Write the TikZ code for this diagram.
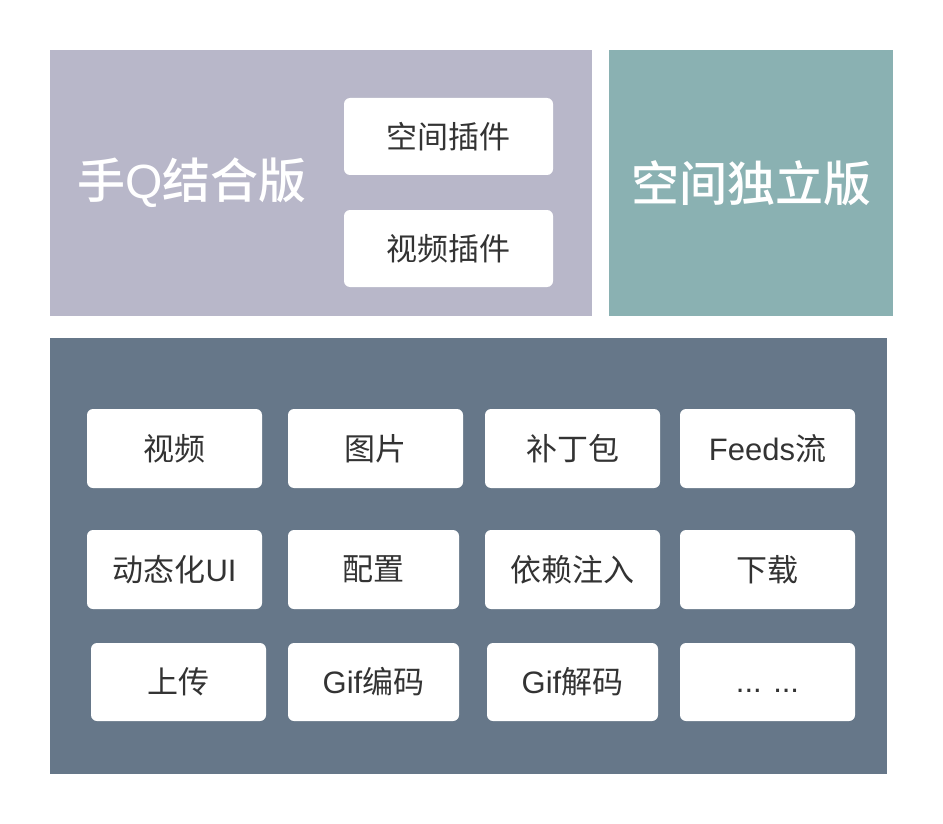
\documentclass[tikz,border=0pt]{standalone}
\usepackage{fontspec}
\setmainfont{Noto Sans CJK SC}
\newfontfamily\titlefont{Noto Sans CJK SC Medium}
\newfontfamily\latfont{Liberation Sans}
\definecolor{hqpanel}{HTML}{B8B7C9}
\definecolor{qzpanel}{HTML}{8AB1B2}
\definecolor{basepanel}{HTML}{667789}
\definecolor{cellText}{HTML}{333333}
\begin{document}
\begin{tikzpicture}[x=1pt, y=-1pt,
  cell/.style={shape=rectangle, fill=white, rounded corners=6pt, inner sep=0pt,
    minimum width=175pt, minimum height=79pt, text=cellText,
    font=\fontsize{31}{36}\selectfont},
  title/.style={text=white, inner sep=0pt, font=\titlefont\fontsize{48}{56}\selectfont}]
\useasboundingbox (0,0) rectangle (943,824);
\fill[hqpanel] (50,50) rectangle (592,316);
\fill[qzpanel] (609,50) rectangle (893,316);
\fill[basepanel] (50,338) rectangle (887,774);
\node[title] (hq) at (192,183) {手{\latfont Q}结合版};
\node[title] (qz) at (751,183) {空间独立版};
\node[cell, minimum width=209pt, minimum height=77pt] (p1) at (448.5,136.5) {空间插件};
\node[cell, minimum width=209pt, minimum height=77pt] (p2) at (448.5,248.5) {视频插件};
\node[cell] (c11) at (174.5,448.5) {视频};
\node[cell] (c12) at (375.5,448.5) {图片};
\node[cell] (c13) at (572.5,448.5) {补丁包};
\node[cell] (c14) at (767.5,448.5) {{\latfont Feeds}流};
\node[cell] (c21) at (174.5,569.5) {动态化{\latfont UI}};
\node[cell, minimum width=171pt] (c22) at (373.5,569.5) {配置};
\node[cell] (c23) at (572.5,569.5) {依赖注入};
\node[cell] (c24) at (767.5,569.5) {下载};
\node[cell, minimum height=78pt] (c31) at (178.5,682) {上传};
\node[cell, minimum width=171pt, minimum height=78pt] (c32) at (373.5,682) {{\latfont Gif}编码};
\node[cell, minimum width=171pt, minimum height=78pt] (c33) at (572.5,682) {{\latfont Gif}解码};
\node[cell, minimum height=78pt] (c34) at (767.5,682) {\vphantom{下}{\latfont ... ...}};
\end{tikzpicture}
\end{document}
